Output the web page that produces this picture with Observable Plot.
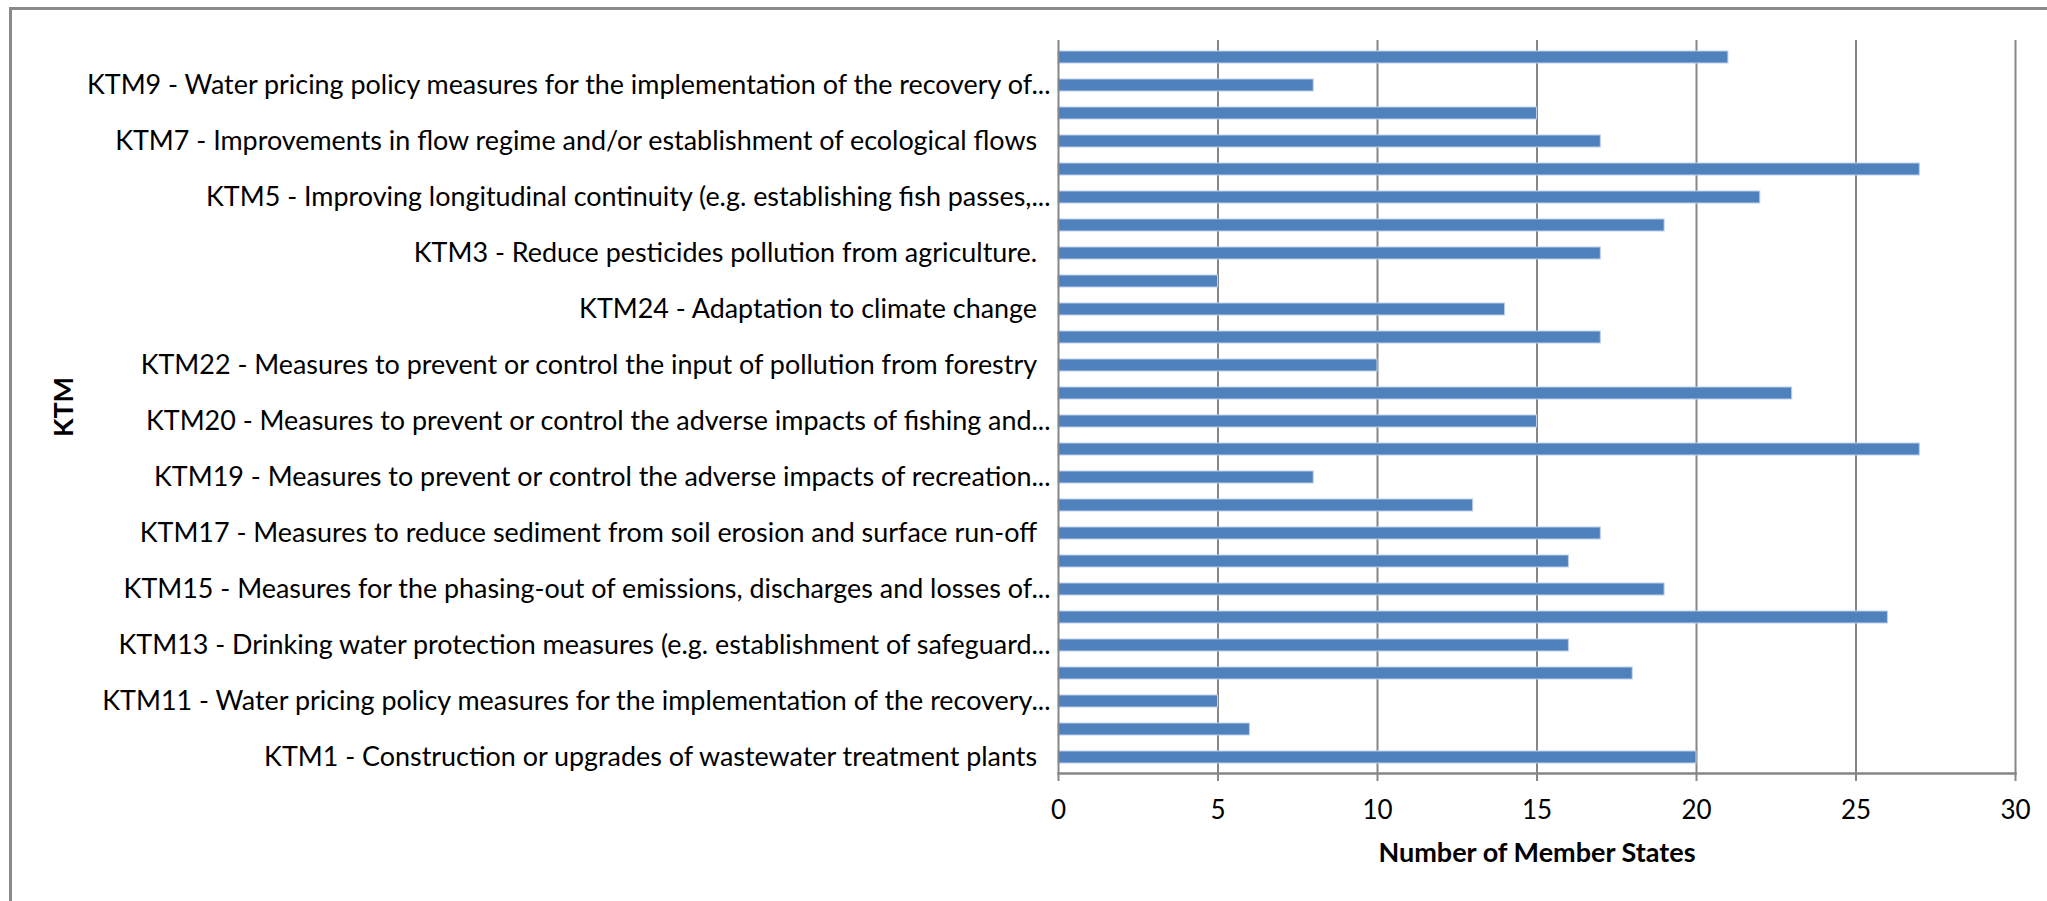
<!DOCTYPE html>
<html><head><meta charset="utf-8">
<script src="https://cdn.jsdelivr.net/npm/d3@7"></script>
<script src="https://cdn.jsdelivr.net/npm/@observablehq/plot@0.6"></script>
<style>
html,body{margin:0;padding:0;background:#fff;}
#wrap{position:relative;width:2047px;height:901px;overflow:hidden;}
#border{position:absolute;left:9px;top:7px;width:2100px;height:1000px;border-left:3px solid #8a8a8a;border-top:3px solid #8a8a8a;box-sizing:border-box;}
#chart{position:absolute;left:0;top:0;}
</style></head><body>
<div id="wrap"><div id="border"></div><div id="chart"></div></div>
<script>
// KTM codes, bottom to top (as sorted in the source chart)
const codes = ["KTM1","KTM10","KTM11","KTM12","KTM13","KTM14","KTM15","KTM16","KTM17","KTM18","KTM19","KTM2","KTM20","KTM21","KTM22","KTM23","KTM24","KTM25","KTM3","KTM4","KTM5","KTM6","KTM7","KTM8","KTM9","KTM99"];
const values = [20,6,5,18,16,26,19,16,17,13,8,27,15,23,10,17,14,5,17,19,22,27,17,15,8,21];
const labels = [
  "KTM1 - Construction or upgrades of wastewater treatment plants ",
  "",
  "KTM11 - Water pricing policy measures for the implementation of the recovery...",
  "",
  "KTM13 - Drinking water protection measures (e.g. establishment of safeguard...",
  "",
  "KTM15 - Measures for the phasing-out of emissions, discharges and losses of...",
  "",
  "KTM17 - Measures to reduce sediment from soil erosion and surface run-off ",
  "",
  "KTM19 - Measures to prevent or control the adverse impacts of recreation...",
  "",
  "KTM20 - Measures to prevent or control the adverse impacts of fishing and...",
  "",
  "KTM22 - Measures to prevent or control the input of pollution from forestry ",
  "",
  "KTM24 - Adaptation to climate change ",
  "",
  "KTM3 - Reduce pesticides pollution from agriculture. ",
  "",
  "KTM5 - Improving longitudinal continuity (e.g. establishing fish passes,...",
  "",
  "KTM7 - Improvements in flow regime and/or establishment of ecological flows ",
  "",
  "KTM9 - Water pricing policy measures for the implementation of the recovery of...",
  ""
];
const xTicks = [0,5,10,15,20,25,30];
const xTitle = "Number of Member States";
const yTitle = "KTM";

const data = codes.map((c, i) => ({code: c, value: values[i]}));
const labelOf = new Map(codes.map((c, i) => [c, labels[i]]));
const fmt = c => {
  const s = labelOf.get(c) || "";
  return s.endsWith(" ") ? s.trimEnd() + "\u2002" : s;
};

const chart = Plot.plot({
  width: 2047, height: 901,
  marginLeft: 1058, marginRight: 32, marginTop: 40, marginBottom: 128,
  style: {fontFamily: "Lato, sans-serif", fontSize: "26px", color: "#000", background: "transparent"},
  x: {domain: [0, 30], ticks: xTicks},
  y: {domain: codes.slice().reverse(), paddingInner: 0.574, paddingOuter: 0.287},
  marks: [
    Plot.gridX(xTicks.slice(1), {stroke: "#868686", strokeOpacity: 1, strokeWidth: 2}),
    Plot.barX(data, {x: "value", y: "code", fill: "#4F81BD", stroke: "#bcd0ea", strokeWidth: 1}),
    Plot.ruleX([0], {stroke: "#868686", strokeWidth: 2}),
    Plot.frame({anchor: "bottom", stroke: "#868686", strokeWidth: 2.5}),
    Plot.axisX({ticks: xTicks, tickSize: 8, tickPadding: 19, stroke: "#868686", strokeWidth: 2, label: null, fontSize: 26}),
    Plot.axisY({tickSize: 0, tickPadding: 8, tickFormat: fmt, label: null, fontSize: 26.9}),
    Plot.text([xTitle], {text: d => d, frameAnchor: "bottom", dy: 80, lineAnchor: "middle", textAnchor: "middle", fontWeight: "bold", fontSize: 27}),
    Plot.text([yTitle], {text: d => d, frameAnchor: "left", dx: -994.5, rotate: -90, lineAnchor: "middle", textAnchor: "middle", fontWeight: "bold", fontSize: 27})
  ]
});
document.getElementById("chart").appendChild(chart);
</script>
</body></html>
